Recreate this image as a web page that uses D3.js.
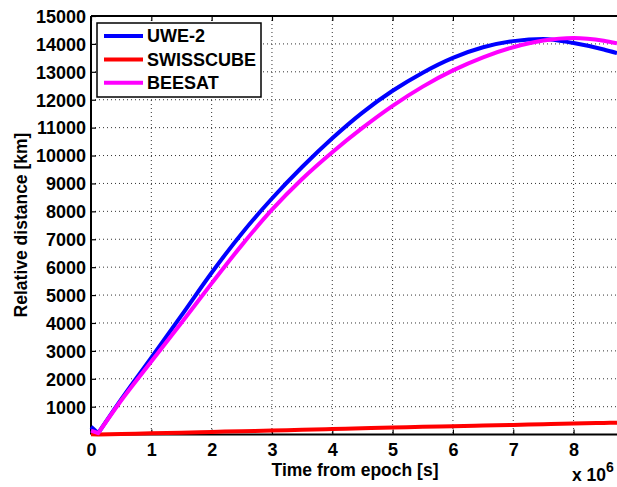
<!DOCTYPE html>
<html>
<head>
<meta charset="utf-8">
<script src="https://cdn.jsdelivr.net/npm/d3@7"></script>
<style>
  body { margin: 0; background: #fff; }
  svg { display: block; font-family: 'Liberation Sans', Arial, sans-serif; font-weight: bold; }
</style>
</head>
<body>
<svg id="chart" width="617" height="487"></svg>
<script>

// time from epoch, in units of 1e6 s
const times = [0, 0.12, 0.5, 1, 1.5, 2, 2.5, 3, 3.5, 4, 4.5, 5, 5.5, 6, 6.5, 7, 7.5, 8, 8.5, 8.72]

const uwe2 = [280, 50, 1260, 2760, 4270, 5800, 7210, 8460, 9590, 10620, 11540, 12320, 12970, 13500, 13880, 14100, 14180, 14030, 13800, 13670]
const swisscube = [10, 4, 22, 48, 70, 95, 122, 148, 172, 198, 228, 252, 278, 300, 322, 348, 372, 398, 418, 428]
const beesat = [140, 50, 1220, 2620, 4010, 5420, 6790, 8060, 9160, 10120, 10990, 11780, 12470, 13050, 13520, 13880, 14120, 14210, 14110, 14020]

const seriesNames = ['UWE-2', 'SWISSCUBE', 'BEESAT']
const seriesColors = ['#0000ff', '#ff0000', '#ff00ff']

const xTicks = [0, 1, 2, 3, 4, 5, 6, 7, 8]
const yTicks = [1000, 2000, 3000, 4000, 5000, 6000, 7000, 8000, 9000, 10000, 11000, 12000, 13000, 14000, 15000]

const plotLeft = 91, plotRight = 617, plotTop = 16, plotBottom = 434.6

const svg = d3.select('#chart')

const x = d3.scaleLinear().domain([0, 8.72]).range([plotLeft, plotRight])
const y = d3.scaleLinear().domain([0, 15000]).range([plotBottom, plotTop])

// dotted grid
const grid = svg.append('g').attr('id', 'grid')
grid.selectAll('line.gx').data(xTicks.filter(d => d > 0)).enter()
    .append('line')
    .attr('x1', d => x(d)).attr('x2', d => x(d))
    .attr('y1', plotTop).attr('y2', plotBottom)
grid.selectAll('line.gy').data(yTicks).enter()
    .append('line')
    .attr('x1', plotLeft).attr('x2', plotRight)
    .attr('y1', d => y(d)).attr('y2', d => y(d))
grid.selectAll('line')
    .attr('stroke', '#333')
    .attr('stroke-width', 1)
    .attr('stroke-dasharray', '1,3')

// axes, ticks pointing inward
const xAxis = d3.axisBottom(x).tickValues(xTicks).tickSize(-5).tickPadding(9).tickFormat(d3.format('d'))
const yAxis = d3.axisLeft(y).tickValues(yTicks).tickSize(-5).tickPadding(5).tickFormat(d3.format('d'))
const topAxis = d3.axisTop(x).tickValues(xTicks).tickSize(-5).tickFormat('')

const xg = svg.append('g').attr('transform', `translate(0,${plotBottom})`).call(xAxis)
const yg = svg.append('g').attr('transform', `translate(${plotLeft},0)`).call(yAxis)
const tg = svg.append('g').attr('transform', `translate(0,${plotTop})`).call(topAxis)

svg.selectAll('.domain').remove()
svg.selectAll('.tick line').attr('stroke', '#000').attr('stroke-width', 1.2)
svg.selectAll('.tick text').attr('fill', '#000').style('font-size', '18px').style('font-family', "'Liberation Sans', Arial, sans-serif").style('font-weight', 'bold')
yg.selectAll('.tick text').attr('dy', '0.35em')

// box lines
svg.append('line').attr('x1', plotLeft).attr('x2', plotRight).attr('y1', plotBottom).attr('y2', plotBottom).attr('stroke', '#000').attr('stroke-width', 2)
svg.append('line').attr('x1', plotLeft).attr('x2', plotRight).attr('y1', plotTop).attr('y2', plotTop).attr('stroke', '#000').attr('stroke-width', 2)
svg.append('line').attr('x1', plotLeft).attr('x2', plotLeft).attr('y1', plotTop).attr('y2', plotBottom).attr('stroke', '#000').attr('stroke-width', 2)

// series: straight drop to the first minimum, smooth after it
const straight = d3.line().x(d => x(d[0])).y(d => y(d[1]))
const smooth = d3.line().x(d => x(d[0])).y(d => y(d[1])).curve(d3.curveMonotoneX)
const series = [uwe2, swisscube, beesat]

const pg = svg.append('g').attr('id', 'paths')
series.forEach((vals, i) => {
    const pts = times.map((t, j) => [t, vals[j]])
    pg.append('path')
        .attr('d', straight(pts.slice(0, 2)) + smooth(pts.slice(1)).replace(/^M[^CL]*/, m => 'L' + m.slice(1)))
        .attr('fill', 'none')
        .attr('stroke', seriesColors[i])
        .attr('stroke-width', 4)
        .attr('stroke-linejoin', 'round')
})

// labels
svg.append('text')
    .attr('x', 355).attr('y', 476)
    .attr('text-anchor', 'middle')
    .style('font-size', '17.5px')
    .text('Time from epoch [s]')

svg.append('text')
    .attr('transform', 'translate(27,225) rotate(-90)')
    .attr('text-anchor', 'middle')
    .style('font-size', '17.5px')
    .text('Relative distance [km]')

const mult = svg.append('text').attr('x', 572).attr('y', 481).style('font-size', '17.5px')
mult.append('tspan').text('x 10')
mult.append('tspan').attr('dy', -9).style('font-size', '14px').text('6')

// legend
const legend = svg.append('g').attr('id', 'legend')
legend.append('rect')
    .attr('x', 97).attr('y', 23).attr('width', 164).attr('height', 74)
    .attr('fill', '#fff').attr('stroke', '#000').attr('stroke-width', 1.5)

const rows = legend.selectAll('g.row').data(seriesNames).enter()
    .append('g')
    .attr('transform', (d, i) => `translate(0,${36 + i * 23.4})`)
rows.append('line')
    .attr('x1', 104).attr('x2', 143).attr('y1', 0).attr('y2', 0)
    .attr('stroke', (d, i) => seriesColors[i]).attr('stroke-width', 4)
rows.append('text')
    .attr('x', 147).attr('dy', '0.36em')
    .style('font-size', '18px')
    .text(d => d)

</script>
</body>
</html>
